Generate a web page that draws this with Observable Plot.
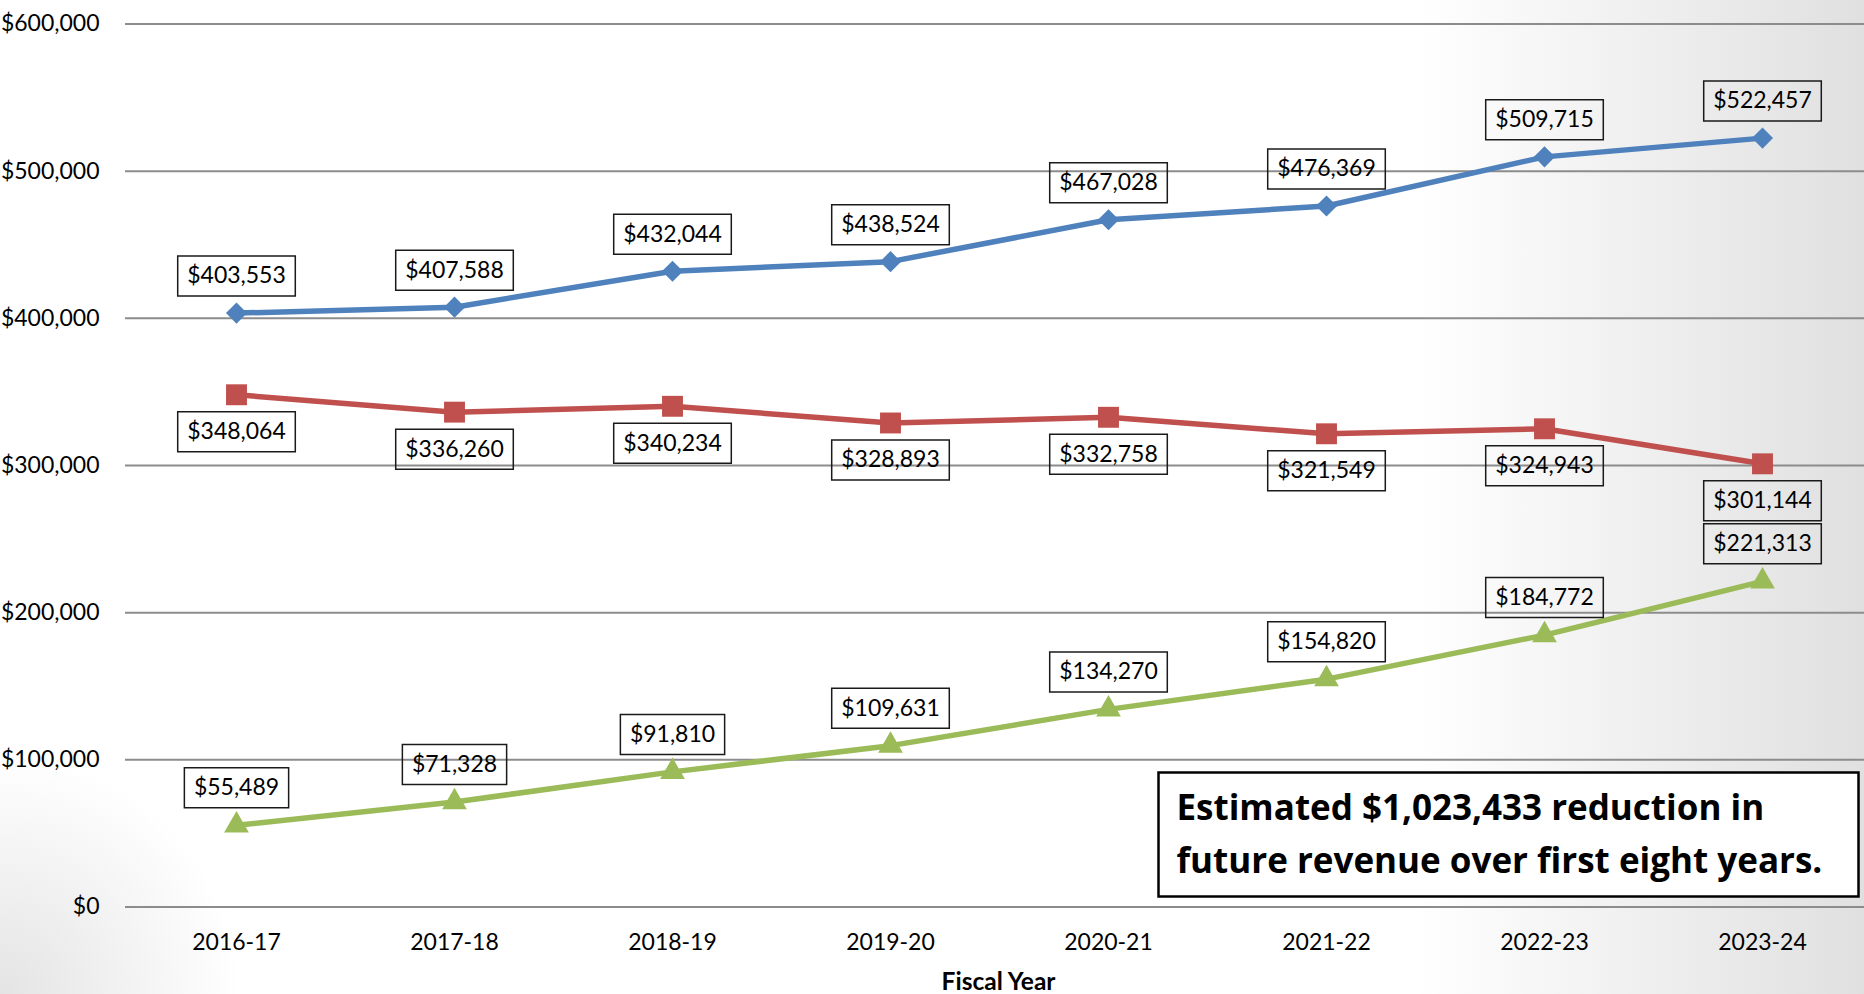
<!DOCTYPE html>
<html>
<head>
<meta charset="utf-8">
<script src="https://cdn.jsdelivr.net/npm/d3@7"></script>
<script src="https://cdn.jsdelivr.net/npm/@observablehq/plot@0.6"></script>
<style>
html, body { margin: 0; padding: 0; }
body {
  width: 1864px; height: 994px; overflow: hidden;
  background:
    linear-gradient(to right, rgba(224,224,224,0) 76%, rgba(224,224,224,1) 100%),
    radial-gradient(circle at 0% 100%, #e4e4e4 0px, rgba(255,255,255,0) 240px),
    #ffffff;
}
#chart svg { display: block; }
</style>
</head>
<body>
<div id="chart"></div>
<script>
// ---- data ----
const years = ["2016-17", "2017-18", "2018-19", "2019-20", "2020-21", "2021-22", "2022-23", "2023-24"];
const revenueCurrent = [403553, 407588, 432044, 438524, 467028, 476369, 509715, 522457];
const revenueProposed = [348064, 336260, 340234, 328893, 332758, 321549, 324943, 301144];
const revenueReduction = [55489, 71328, 91810, 109631, 134270, 154820, 184772, 221313];
const yTicks = [0, 100000, 200000, 300000, 400000, 500000, 600000];
const xLabel = "Fiscal Year";
const note = "Estimated $1,023,433 reduction in\nfuture revenue over first eight years.";

// ---- styling per series ----
const series = [
  {name: "Current", values: revenueCurrent, color: "#4F81BD", symbol: "diamond2", r: 9.5, labelDy: -37},
  {name: "Proposed", values: revenueProposed, color: "#C0504D", symbol: "square", r: 11.8, labelDy: 37},
  {name: "Reduction", values: revenueReduction, color: "#9BBB59", symbol: "triangle", r: 9.2, labelDy: -37.5}
];

const fmt = d => "$" + d3.format(",")(d);
const FONT = "Lato, 'Liberation Sans', sans-serif";
const LABEL_SIZE = 23;

const canvasCtx = document.createElement("canvas").getContext("2d");
canvasCtx.font = `${LABEL_SIZE}px Lato`;
function boxSymbol(w, h) {
  return {
    draw(c) {
      c.moveTo(-w / 2, -h / 2);
      c.lineTo(w / 2, -h / 2);
      c.lineTo(w / 2, h / 2);
      c.lineTo(-w / 2, h / 2);
      c.closePath();
    }
  };
}

const marks = [];
marks.push(Plot.ruleY(yTicks, {stroke: "#8c8c8c", strokeWidth: 2}));

for (const s of series) {
  const rows = s.values.map((v, i) => ({year: years[i], value: v}));
  marks.push(Plot.line(rows, {x: "year", y: "value", stroke: s.color, strokeWidth: 5.5, strokeLinejoin: "round"}));
  marks.push(Plot.dot(rows, {x: "year", y: "value", symbol: s.symbol, r: s.r, fill: s.color, stroke: "none"}));
  for (const d of rows) {
    const w = canvasCtx.measureText(fmt(d.value)).width + 19;
    marks.push(Plot.dot([d], {x: "year", y: "value", symbol: boxSymbol(w, 40), r: 1, fill: "none", stroke: "#1a1a1a", strokeWidth: 1.5, dy: s.labelDy}));
  }
  marks.push(Plot.text(rows, {x: "year", y: "value", text: d => fmt(d.value), dy: s.labelDy, fontSize: LABEL_SIZE, fill: "#000"}));
}

marks.push(Plot.text([xLabel], {frameAnchor: "bottom", dx: 3.5, dy: 83, fontWeight: "bold", fontSize: 24.5, fill: "#000"}));

// annotation box
marks.push(Plot.frame({insetLeft: 1033, insetRight: 6, insetTop: 748.5, insetBottom: 10.5, fill: "#ffffff", stroke: "#000", strokeWidth: 2.5}));
marks.push(Plot.text([note], {frameAnchor: "bottom-left", textAnchor: "start", lineAnchor: "middle", dx: 1051, dy: -77, fontSize: 35, fontWeight: "bold", lineHeight: 53 / 35, fill: "#000", fontFamily: "'Open Sans', sans-serif"}));

const chart = Plot.plot({
  width: 1864,
  height: 994,
  marginLeft: 125,
  marginRight: 0,
  marginTop: 23.5,
  marginBottom: 87.5,
  style: {fontFamily: FONT, fontSize: "23px", background: "transparent", color: "#000", overflow: "visible"},
  x: {type: "point", domain: years, range: [234, 1763], padding: 0, label: null, tickSize: 0, tickPadding: 27},
  y: {domain: [0, 600000], label: null, ticks: yTicks, tickFormat: fmt, tickSize: 0, tickPadding: 26},
  marks
});
document.getElementById("chart").appendChild(chart);
</script>
</body>
</html>
